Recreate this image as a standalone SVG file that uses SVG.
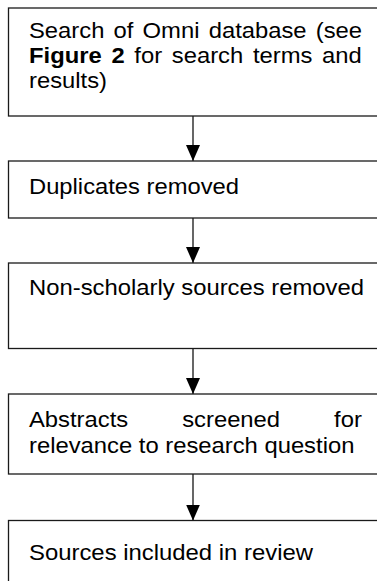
<svg xmlns="http://www.w3.org/2000/svg" width="377" height="581" viewBox="0 0 377 581">
<style>
.box{fill:#fff;stroke:#1a1a1a;stroke-width:1.3}
.t{font-family:"Liberation Sans",Arial,sans-serif;font-size:22px;fill:#000}
.b{font-weight:bold}
.conn line{stroke:#000;stroke-width:1.2}
</style>
<defs>
<marker id="ah" viewBox="0 0 16 14" markerWidth="16" markerHeight="14" refX="16" refY="7" orient="auto" markerUnits="userSpaceOnUse">
<path d="M0,0 L16,7 L0,14 z" fill="#000"/>
</marker>
</defs>
<rect width="377" height="581" fill="#fff"/>
<g id="connectors" class="conn">
<line x1="193" y1="116" x2="193" y2="161" marker-end="url(#ah)"/>
<line x1="193" y1="218" x2="193" y2="263" marker-end="url(#ah)"/>
<line x1="193" y1="348.5" x2="193" y2="394" marker-end="url(#ah)"/>
<line x1="193" y1="474" x2="193" y2="520.5" marker-end="url(#ah)"/>
</g>
<g id="n1">
<rect class="box" x="8.5" y="8" width="400" height="108"/>
<text class="t" y="38.3">
<tspan x="29" textLength="75.4" lengthAdjust="spacingAndGlyphs">Search</tspan>
<tspan x="113.6" textLength="19.85" lengthAdjust="spacingAndGlyphs">of</tspan>
<tspan x="142.6" textLength="56.9" lengthAdjust="spacingAndGlyphs">Omni</tspan>
<tspan x="208.7" textLength="97.9" lengthAdjust="spacingAndGlyphs">database</tspan>
<tspan x="315.8" textLength="46.3" lengthAdjust="spacingAndGlyphs">(see</tspan>
</text>
<text class="t" y="63.3">
<tspan class="b" x="29" textLength="72.7" lengthAdjust="spacingAndGlyphs">Figure</tspan>
<tspan class="b" x="111.4" textLength="13.2" lengthAdjust="spacingAndGlyphs">2</tspan>
<tspan x="134.3" textLength="27.8" lengthAdjust="spacingAndGlyphs">for</tspan>
<tspan x="171.8" textLength="71.4" lengthAdjust="spacingAndGlyphs">search</tspan>
<tspan x="252.9" textLength="59.5" lengthAdjust="spacingAndGlyphs">terms</tspan>
<tspan x="322.1" textLength="39.7" lengthAdjust="spacingAndGlyphs">and</tspan>
</text>
<text class="t" x="29" y="88.3" textLength="78" lengthAdjust="spacingAndGlyphs">results)</text>
</g>
<g id="n2">
<rect class="box" x="8.5" y="161" width="400" height="57"/>
<text class="t" x="29" y="194.3" textLength="210" lengthAdjust="spacingAndGlyphs">Duplicates removed</text>
</g>
<g id="n3">
<rect class="box" x="8.5" y="263" width="400" height="85.5"/>
<text class="t" x="29" y="295" textLength="335" lengthAdjust="spacingAndGlyphs">Non-scholarly sources removed</text>
</g>
<g id="n4">
<rect class="box" x="8.5" y="394" width="400" height="80"/>
<text class="t" y="426.7">
<tspan x="29" textLength="99.2" lengthAdjust="spacingAndGlyphs">Abstracts</tspan>
<tspan x="182.2" textLength="97.9" lengthAdjust="spacingAndGlyphs">screened</tspan>
<tspan x="334.1" textLength="27.8" lengthAdjust="spacingAndGlyphs">for</tspan>
</text>
<text class="t" x="29" y="453.3" textLength="325.4" lengthAdjust="spacingAndGlyphs">relevance to research question</text>
</g>
<g id="n5">
<rect class="box" x="8.5" y="520.5" width="400" height="100"/>
<text class="t" x="29" y="560" textLength="284" lengthAdjust="spacingAndGlyphs">Sources included in review</text>
</g>
</svg>
